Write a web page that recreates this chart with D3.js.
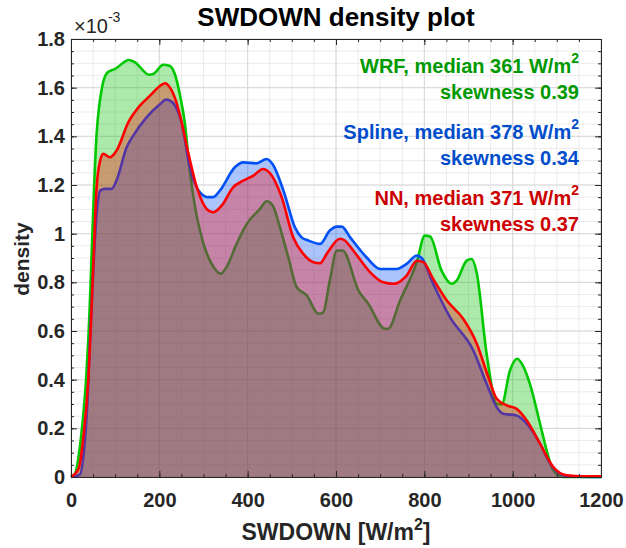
<!DOCTYPE html>
<html>
<head>
<meta charset="utf-8">
<script src="https://cdn.jsdelivr.net/npm/d3@7"></script>
<style>
  body { margin: 0; background: #fff; }
  svg { display: block; }
  text { font-family: "Liberation Sans", Arial, Helvetica, sans-serif; }
</style>
</head>
<body>
<svg id="chart" width="626" height="548"></svg>
<script>
// Density estimates of SWDOWN (values in units of 1e-3)
const wrfX = [0, 9, 20, 28, 34, 39, 58, 71, 83, 100, 131, 145, 177, 186, 209, 223, 235, 247, 258, 268, 281, 292, 326, 339, 352, 375, 398, 428, 443, 457, 473, 492, 511, 534, 560, 571, 586, 602, 615, 651, 673, 711, 718, 745, 783, 801, 813, 839, 862, 873, 896, 907, 919, 941, 964, 975, 994, 1010, 1021, 1039, 1062, 1077, 1092, 1115, 1200];
const wrfY = [0, 0.014, 0.123, 0.26, 0.397, 0.56, 1.41, 1.608, 1.663, 1.677, 1.714, 1.704, 1.653, 1.656, 1.694, 1.69, 1.656, 1.567, 1.451, 1.273, 1.108, 1.013, 0.855, 0.835, 0.862, 0.958, 1.04, 1.102, 1.133, 1.115, 1.026, 0.903, 0.78, 0.746, 0.671, 0.677, 0.807, 0.931, 0.931, 0.766, 0.712, 0.609, 0.609, 0.725, 0.883, 0.992, 0.988, 0.848, 0.794, 0.807, 0.889, 0.896, 0.835, 0.506, 0.301, 0.298, 0.438, 0.486, 0.465, 0.383, 0.219, 0.109, 0.027, 0, 0];

const splineX = [0, 20, 30, 37, 43, 60, 66, 77, 92, 103, 126, 141, 171, 202, 215, 224, 238, 251, 269, 292, 311, 322, 337, 371, 390, 420, 443, 457, 481, 507, 522, 537, 564, 586, 602, 613, 632, 669, 700, 737, 760, 783, 794, 820, 858, 911, 941, 964, 979, 1009, 1032, 1062, 1085, 1107, 1130, 1200];
const splineY = [0, 0.01, 0.12, 0.3, 0.56, 1.12, 1.177, 1.184, 1.184, 1.218, 1.355, 1.403, 1.478, 1.533, 1.551, 1.547, 1.519, 1.451, 1.273, 1.17, 1.15, 1.15, 1.177, 1.273, 1.293, 1.289, 1.307, 1.284, 1.177, 1.026, 0.985, 0.972, 0.958, 1.013, 1.029, 1.029, 0.985, 0.903, 0.855, 0.855, 0.876, 0.91, 0.9, 0.794, 0.657, 0.52, 0.383, 0.287, 0.26, 0.253, 0.219, 0.137, 0.055, 0.014, 0.002, 0];

const nnX = [0, 17, 28, 39, 50, 58, 66, 73, 88, 103, 130, 156, 179, 202, 213, 224, 235, 247, 266, 285, 307, 322, 341, 367, 390, 413, 435, 449, 477, 503, 526, 549, 564, 579, 609, 620, 639, 677, 707, 730, 760, 783, 798, 820, 851, 888, 919, 945, 964, 987, 1009, 1032, 1062, 1092, 1122, 1160, 1200];
const nnY = [0, 0.034, 0.164, 0.397, 0.85, 1.19, 1.3, 1.328, 1.314, 1.341, 1.458, 1.526, 1.567, 1.608, 1.618, 1.601, 1.56, 1.485, 1.328, 1.19, 1.102, 1.088, 1.115, 1.19, 1.218, 1.239, 1.266, 1.252, 1.15, 0.985, 0.917, 0.883, 0.879, 0.917, 0.979, 0.972, 0.931, 0.842, 0.8, 0.794, 0.828, 0.889, 0.883, 0.814, 0.725, 0.65, 0.547, 0.41, 0.321, 0.294, 0.28, 0.232, 0.137, 0.041, 0.007, 0.003, 0.003];

// Legend annotations
const seriesNames = ["WRF", "Spline", "NN"];
const medians = [361, 378, 371];
const skewness = [0.39, 0.34, 0.37];

// Axis ticks
const xTicks = [0, 200, 400, 600, 800, 1000, 1200];
const yTicks = [0, 0.2, 0.4, 0.6, 0.8, 1, 1.2, 1.4, 1.6, 1.8];
const yTickLabels = ["0", "0.2", "0.4", "0.6", "0.8", "1", "1.2", "1.4", "1.6", "1.8"];

const lineColors = ["#00c800", "#0050f5", "#ff0000"];
const fillColors = ["#00c000", "#0050f5", "#ff0000"];
const textColors = ["#009900", "#004dcc", "#cc0000"];

const svg = d3.select("#chart");
const plotL = 71, plotR = 601, plotT = 39, plotB = 477;

const x = d3.scaleLinear().domain([0, 1200]).range([plotL, plotR]);
const y = d3.scaleLinear().domain([0, 1.8]).range([plotB, plotT]);

svg.append("rect").attr("width", 626).attr("height", 548).attr("fill", "#fff");

// grid: minor then major
const grid = svg.append("g");
const xMinor = d3.range(0, 1201, 50);
const yMinor = d3.range(0, 37).map(i => i * 0.05);
grid.selectAll(".xm").data(xMinor).join("line")
  .attr("x1", d => x(d)).attr("x2", d => x(d)).attr("y1", plotT).attr("y2", plotB)
  .attr("stroke", "#ebebeb").attr("stroke-width", 1);
grid.selectAll(".ym").data(yMinor).join("line")
  .attr("y1", d => y(d)).attr("y2", d => y(d)).attr("x1", plotL).attr("x2", plotR)
  .attr("stroke", "#ebebeb").attr("stroke-width", 1);
grid.selectAll(".xM").data(xTicks).join("line")
  .attr("x1", d => x(d)).attr("x2", d => x(d)).attr("y1", plotT).attr("y2", plotB)
  .attr("stroke", "#d8d8d8").attr("stroke-width", 1);
grid.selectAll(".yM").data(yTicks).join("line")
  .attr("y1", d => y(d)).attr("y2", d => y(d)).attr("x1", plotL).attr("x2", plotR)
  .attr("stroke", "#d8d8d8").attr("stroke-width", 1);

// density curves, drawn in order WRF, Spline, NN
const series = [
  { xs: wrfX, ys: wrfY },
  { xs: splineX, ys: splineY },
  { xs: nnX, ys: nnY }
];
const curve = d3.curveMonotoneX;
const area = d3.area().x(d => x(d[0])).y0(y(0)).y1(d => y(d[1])).curve(curve);
const line = d3.line().x(d => x(d[0])).y(d => y(d[1])).curve(curve);

series.forEach((s, i) => {
  const pts = s.xs.map((v, k) => [v, s.ys[k]]);
  svg.append("path").datum(pts).attr("d", area)
    .attr("fill", fillColors[i]).attr("fill-opacity", 0.33).attr("stroke", "none");
  svg.append("path").datum(pts).attr("d", line)
    .attr("fill", "none").attr("stroke", lineColors[i]).attr("stroke-width", 2.6)
    .attr("stroke-linejoin", "round");
});

// axes
const axisColor = "#262626";
svg.append("g").attr("transform", `translate(0,${plotB})`)
  .call(d3.axisBottom(x).tickValues(xTicks).tickFormat(d3.format("d"))
    .tickSizeInner(-6).tickSizeOuter(0).tickPadding(16));
svg.append("g").attr("transform", `translate(${plotL},0)`)
  .call(d3.axisLeft(y).tickValues(yTicks).tickFormat((d, i) => yTickLabels[i])
    .tickSizeInner(-6).tickSizeOuter(0).tickPadding(6));
svg.append("g").attr("transform", `translate(0,${plotT})`)
  .call(d3.axisTop(x).tickValues(xTicks).tickFormat("").tickSizeInner(-6).tickSizeOuter(0));
svg.append("g").attr("transform", `translate(${plotR},0)`)
  .call(d3.axisRight(y).tickValues(yTicks).tickFormat("").tickSizeInner(-6).tickSizeOuter(0));
// minor ticks
svg.append("g").attr("transform", `translate(0,${plotB})`)
  .call(d3.axisBottom(x).tickValues(xMinor).tickFormat("").tickSizeInner(-3).tickSizeOuter(0));
svg.append("g").attr("transform", `translate(0,${plotT})`)
  .call(d3.axisTop(x).tickValues(xMinor).tickFormat("").tickSizeInner(-3).tickSizeOuter(0));
svg.append("g").attr("transform", `translate(${plotL},0)`)
  .call(d3.axisLeft(y).tickValues(yMinor).tickFormat("").tickSizeInner(-3).tickSizeOuter(0));
svg.append("g").attr("transform", `translate(${plotR},0)`)
  .call(d3.axisRight(y).tickValues(yMinor).tickFormat("").tickSizeInner(-3).tickSizeOuter(0));

svg.selectAll(".domain").attr("stroke", axisColor).attr("stroke-width", 1);
svg.selectAll(".tick line").attr("stroke", axisColor);
svg.selectAll(".tick text").attr("fill", axisColor)
  .attr("font-size", 20).attr("font-weight", "bold")
  .attr("font-family", "'Liberation Sans', Arial, sans-serif");

// exponent label
const expo = svg.append("text").attr("x", 74).attr("y", 33)
  .attr("font-size", 20).attr("fill", axisColor);
expo.append("tspan").text("×10");
expo.append("tspan").attr("font-size", 14).attr("dy", -11).text("-3");

// title
svg.append("text").attr("x", 336).attr("y", 26).attr("text-anchor", "middle")
  .attr("font-size", 26).attr("font-weight", "bold").attr("fill", "#000")
  .text("SWDOWN density plot");

// axis labels
const xl = svg.append("text").attr("x", 336).attr("y", 540).attr("text-anchor", "middle")
  .attr("font-size", 23).attr("font-weight", "bold").attr("fill", axisColor);
xl.append("tspan").text("SWDOWN [W/m");
xl.append("tspan").attr("font-size", 16).attr("dy", -10).text("2");
xl.append("tspan").attr("dy", 10).text("]");

svg.append("text").attr("transform", "translate(29,259) rotate(-90)")
  .attr("text-anchor", "middle").attr("font-size", 21).attr("font-weight", "bold")
  .attr("fill", axisColor).text("density");

// legend annotations
const legendRight = 579;
const baselines = [73, 139, 205];
seriesNames.forEach((name, i) => {
  const t1 = svg.append("text").attr("x", legendRight).attr("y", baselines[i])
    .attr("text-anchor", "end").attr("font-size", 20).attr("font-weight", "bold")
    .attr("fill", textColors[i]);
  t1.append("tspan").text(`${name}, median ${medians[i]} W/m`);
  t1.append("tspan").attr("font-size", 14).attr("dy", -10).text("2");
  svg.append("text").attr("x", legendRight).attr("y", baselines[i] + 26)
    .attr("text-anchor", "end").attr("font-size", 20).attr("font-weight", "bold")
    .attr("fill", textColors[i]).text(`skewness ${skewness[i].toFixed(2)}`);
});
</script>
</body>
</html>
